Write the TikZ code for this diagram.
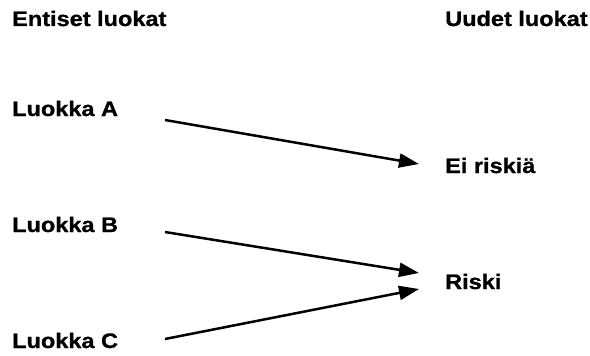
\documentclass[tikz,border=0pt]{standalone}
\usepackage{fontspec}
\setmainfont{Liberation Sans}[FakeStretch=1.12, BoldFeatures={FakeBold=1}]
\usetikzlibrary{arrows.meta}
\tikzset{
  lbl/.style={anchor=base west, inner sep=0pt, font=\fontsize{21}{25}\selectfont\bfseries},
  mapping/.style={line width=2.5pt, -{Triangle[length=20pt,width=14pt]}}
}
\begin{document}
\begin{tikzpicture}[x=1pt,y=-1pt]
\useasboundingbox (0,0) rectangle (590,356);
% column headings
\node[lbl] (old) at (12,26) {Entiset luokat};
\node[lbl] (new) at (445,26) {Uudet luokat};
% former classes
\node[lbl] (la) at (12,116) {Luokka A};
\node[lbl] (lb) at (12,232) {Luokka B};
\node[lbl] (lc) at (12,348) {Luokka C};
% new classes
\node[lbl] (none) at (445,173) {Ei riskiä};
\node[lbl] (risk) at (445,289) {Riski};
% arrow end points
\coordinate (aS) at (165,120);
\coordinate (aE) at (419,164);
\coordinate (bS) at (165,232);
\coordinate (bE) at (419,273);
\coordinate (cS) at (165,339);
\coordinate (cE) at (419,289);
\draw[mapping] (aS) -- (aE);
\draw[mapping] (bS) -- (bE);
\draw[mapping] (cS) -- (cE);
\end{tikzpicture}
\end{document}
